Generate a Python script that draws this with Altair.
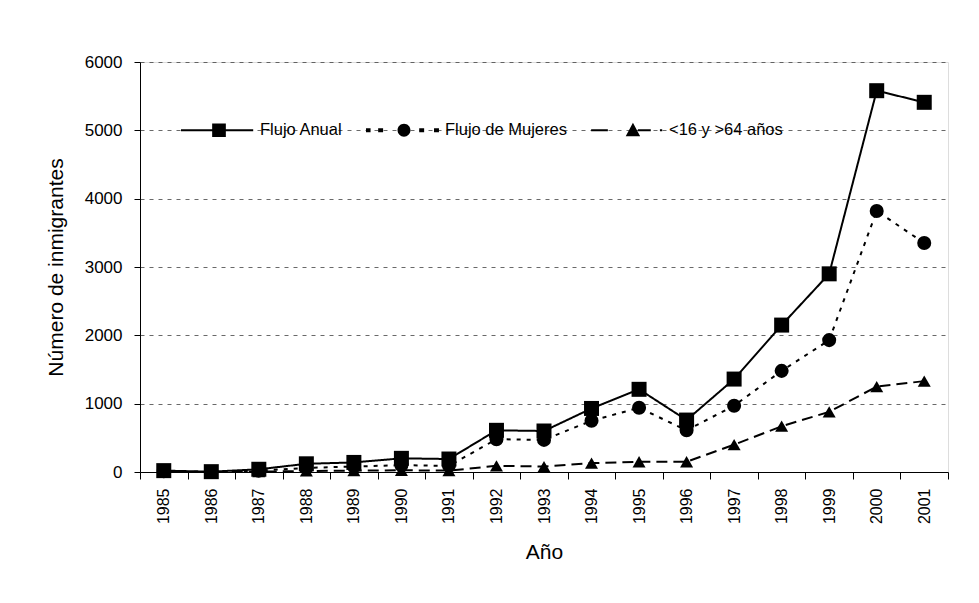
import altair as alt
import pandas as pd

years = [str(y) for y in range(1985, 2002)]
flujo_anual = [20, 5, 40, 120, 140, 200, 190, 610, 600, 930, 1210, 760, 1360, 2150, 2900, 5580, 5410]
flujo_mujeres = [10, 0, 20, 60, 80, 100, 90, 480, 470, 750, 940, 610, 970, 1480, 1930, 3820, 3350]
menores_mayores = [0, 0, 5, 15, 20, 25, 20, 90, 80, 130, 150, 150, 400, 670, 880, 1250, 1330]
series = ["Flujo Anual", "Flujo de Mujeres", "<16 y >64 años"]

rows = []
for name, vals in zip(series, [flujo_anual, flujo_mujeres, menores_mayores]):
    for y, v in zip(years, vals):
        rows.append({"Año": y, "valor": v, "serie": name})
df = pd.DataFrame(rows)

FONT = "Liberation Sans"

x_enc = alt.X("Año:O", scale=alt.Scale(type="band", paddingInner=0, paddingOuter=0),
              axis=alt.Axis(title="Año", labelAngle=-90, labelAlign="right", labelBaseline="middle",
                            tickBand="extent", labelPadding=9, tickSize=7, domainColor="black",
                            tickColor="black", labelFontSize=16, titleFontSize=21, titleFontWeight="normal",
                            titlePadding=18, grid=False))
y_enc = alt.Y("valor:Q", scale=alt.Scale(domain=[0, 6000], nice=False),
              axis=alt.Axis(title="Número de inmigrantes", values=[0, 1000, 2000, 3000, 4000, 5000, 6000],
                            format="d", tickSize=6, labelPadding=12, labelFontSize=17, titleFontSize=21,
                            titleFontWeight="normal", titlePadding=18, domainColor="black",
                            tickColor="black", grid=True, gridDash=[4, 5], gridColor="#444",
                            gridOpacity=0.8))

sdomain = series

lines = alt.Chart(df).mark_line(color="black", strokeWidth=2).encode(
    x=x_enc, y=y_enc,
    strokeDash=alt.StrokeDash("serie:N", scale=alt.Scale(domain=sdomain, range=[[1, 0], [4, 6], [11, 6]]), legend=None),
    detail="serie:N",
)

points = alt.Chart(df).mark_point(filled=True, color="black", opacity=1).encode(
    x="Año:O", y="valor:Q",
    shape=alt.Shape("serie:N", scale=alt.Scale(domain=sdomain, range=["square", "circle", "triangle-up"]), legend=None),
    size=alt.Size("serie:N", scale=alt.Scale(domain=sdomain, range=[225, 169, 170]), legend=None),
)

def rect(a, b, h):
    return f"M{a},{-h}L{b},{-h}L{b},{h}L{a},{h}Z"

sym_anual = rect(-1, 0.9, 0.028) + "M-0.18,-0.18L0.18,-0.18L0.18,0.18L-0.18,0.18Z"
sym_muj = (rect(-1, -0.88, 0.05) + rect(-0.68, -0.55, 0.05) + rect(0.4, 0.53, 0.05) + rect(0.79, 0.92, 0.05)
           + "M-0.17,0A0.17,0.17 0 1,0 0.17,0A0.17,0.17 0 1,0 -0.17,0Z")
sym_men = (rect(-0.97, -0.53, 0.028) + rect(0.26, 0.6, 0.028) + rect(0.84, 0.9, 0.028)
           + "M0.13,-0.2L0.32,0.16L-0.06,0.16Z")

legend_layer = alt.Chart(df).mark_point(filled=True, color="black", opacity=0).encode(
    x="Año:O", y="valor:Q",
    shape=alt.Shape("serie:N", scale=alt.Scale(domain=sdomain, range=[sym_anual, sym_muj, sym_men]),
                    legend=alt.Legend(title=None, orient="none", legendX=41, legendY=30, direction="horizontal",
                                      columns=3, symbolSize=5776, symbolOpacity=1, symbolFillColor="black",
                                      symbolStrokeWidth=0, labelFontSize=16.5,
                                      labelOffset=3, columnPadding=23, padding=0, labelFont=FONT,
                                      labelLimit=250)),
)

chart = alt.layer(lines, points, legend_layer).resolve_scale(shape="independent", size="independent").properties(
    width=808, height=410,
    autosize=alt.AutoSizeParams(type="none"),
    padding={"left": 132, "top": 54, "right": 20, "bottom": 110},
).configure_view(stroke="black", strokeWidth=1.5).configure_axis(
    labelFont=FONT, titleFont=FONT, labelColor="black", titleColor="black"
).configure(background="white")

chart.save("out.html", embed_options={"renderer": "svg", "actions": False})
